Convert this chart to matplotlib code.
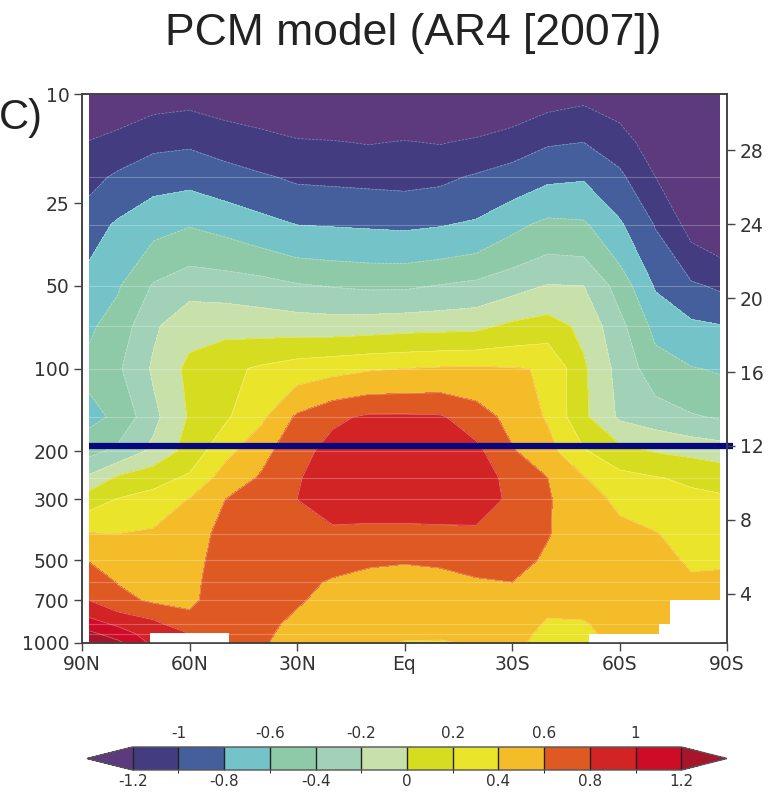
import numpy as np
import matplotlib
matplotlib.use("Agg")
import matplotlib.pyplot as plt
from matplotlib.colors import ListedColormap, BoundaryNorm
from matplotlib.ticker import NullLocator

# latitude of each model column (N positive), pressure levels (hPa)
lats = [88, 80, 70, 60, 50, 40, 30, 20, 10, 0, -10, -20, -30, -40, -50, -60, -70, -80, -88]
plev = [10, 15, 20, 30, 50, 70, 100, 150, 200, 250, 300, 400, 500, 600, 700, 850, 925, 1000]

# temperature change (degC) per pressure level
dt_10 = [-1.40, -1.36, -1.29, -1.27, -1.31, -1.35, -1.39, -1.40, -1.40, -1.40, -1.40, -1.42, -1.38, -1.29, -1.25, -1.32, -1.50, -1.55, -1.60]
dt_15 = [-1.19, -1.13, -1.05, -1.03, -1.09, -1.13, -1.18, -1.19, -1.21, -1.19, -1.21, -1.17, -1.10, -1.02, -1.00, -1.10, -1.32, -1.50, -1.55]
dt_20 = [-1.06, -0.97, -0.88, -0.86, -0.92, -0.98, -1.03, -1.04, -1.05, -1.06, -1.04, -0.98, -0.92, -0.84, -0.82, -0.96, -1.20, -1.42, -1.48]
dt_30 = [-0.89, -0.77, -0.66, -0.61, -0.66, -0.73, -0.80, -0.81, -0.82, -0.83, -0.81, -0.77, -0.65, -0.55, -0.57, -0.77, -1.01, -1.27, -1.35]
dt_50 = [-0.72, -0.62, -0.38, -0.27, -0.29, -0.32, -0.38, -0.41, -0.43, -0.43, -0.39, -0.35, -0.27, -0.19, -0.20, -0.48, -0.82, -0.97, -1.03]
dt_70 = [-0.63, -0.52, -0.23, -0.07, -0.06, -0.08, -0.09, -0.10, -0.09, -0.07, -0.06, -0.05, 0.04, 0.09, -0.05, -0.34, -0.66, -0.76, -0.79]
dt_100 = [-0.55, -0.43, -0.17, 0.05, 0.15, 0.23, 0.30, 0.34, 0.38, 0.40, 0.42, 0.43, 0.41, 0.39, 0.03, -0.27, -0.51, -0.59, -0.62]
dt_150 = [-0.66, -0.56, -0.25, 0.02, 0.17, 0.36, 0.63, 0.76, 0.83, 0.83, 0.82, 0.70, 0.53, 0.38, 0.04, -0.23, -0.30, -0.38, -0.42]
dt_200 = [-0.46, -0.35, -0.15, 0.08, 0.34, 0.54, 0.72, 0.88, 0.92, 0.93, 0.92, 0.85, 0.62, 0.47, 0.22, 0.07, -0.01, -0.05, -0.09]
dt_250 = [-0.16, 0.03, 0.13, 0.23, 0.49, 0.62, 0.78, 0.92, 0.95, 0.95, 0.95, 0.90, 0.74, 0.60, 0.41, 0.26, 0.21, 0.17, 0.13]
dt_300 = [0.11, 0.21, 0.27, 0.41, 0.60, 0.70, 0.80, 0.90, 0.92, 0.92, 0.92, 0.88, 0.77, 0.62, 0.46, 0.37, 0.29, 0.24, 0.23]
dt_400 = [0.41, 0.40, 0.43, 0.48, 0.68, 0.72, 0.76, 0.76, 0.74, 0.74, 0.75, 0.77, 0.73, 0.61, 0.50, 0.44, 0.41, 0.32, 0.31]
dt_500 = [0.59, 0.51, 0.49, 0.52, 0.70, 0.72, 0.70, 0.67, 0.62, 0.61, 0.63, 0.67, 0.67, 0.57, 0.50, 0.46, 0.45, 0.38, 0.38]
dt_600 = [0.71, 0.59, 0.55, 0.55, 0.70, 0.70, 0.65, 0.58, 0.56, 0.55, 0.54, 0.58, 0.60, 0.50, 0.48, 0.47, 0.47, 0.42, 0.43]
dt_700 = [0.80, 0.66, 0.57, 0.57, 0.68, 0.68, 0.62, 0.54, 0.53, 0.52, 0.50, 0.53, 0.56, 0.46, 0.45, 0.47, 0.47, 0.44, 0.45]
dt_850 = [1.08, 0.96, 0.85, 0.65, 0.72, 0.65, 0.56, 0.50, 0.48, 0.46, 0.45, 0.47, 0.50, 0.38, 0.39, 0.45, 0.46, 0.44, 0.45]
dt_925 = [1.25, 1.10, 0.90, 0.80, 0.76, 0.64, 0.53, 0.48, 0.46, 0.43, 0.42, 0.44, 0.47, 0.35, 0.37, 0.45, 0.46, 0.44, 0.45]
dt_1000 = [1.35, 1.25, 0.95, 0.85, 0.80, 0.63, 0.50, 0.47, 0.44, 0.39, 0.39, 0.41, 0.45, 0.33, 0.35, 0.45, 0.46, 0.44, 0.45]

# below-ground (no data) patches: lat from, lat to, top pressure
ground_lat0 = [71, -51.6, -71, -74]
ground_lat1 = [49, -71, -74, -88]
ground_ptop = [920, 925, 850, 697]

levels = [-1.2, -1.0, -0.8, -0.6, -0.4, -0.2, 0.0, 0.2, 0.4, 0.6, 0.8, 1.0, 1.2]
fill_colors = ['#433c80', '#455f9c', '#74c3c9', '#8ecaa8', '#a1d2b7', '#c8e1ab',
               '#d6dc20', '#eae42b', '#f4bc28', '#df5a23', '#d22424', '#cf0c28']
under_color = '#5d397d'
over_color = '#a8142a'

xticks = [90, 60, 30, 0, -30, -60, -90]
xlabels = ['90N', '60N', '30N', 'Eq', '30S', '60S', '90S']
pticks = [10, 25, 50, 100, 200, 300, 500, 700, 1000]
zticks = [4, 8, 12, 16, 20, 24, 28]
cb_bottom = [-1.2, -0.8, -0.4, 0, 0.4, 0.8, 1.2]
cb_bottom_lab = ['-1.2', '-0.8', '-0.4', '0', '0.4', '0.8', '1.2']
cb_top = [-1.0, -0.6, -0.2, 0.2, 0.6, 1.0]
cb_top_lab = ['-1', '-0.6', '-0.2', '0.2', '0.6', '1']
tropopause_km = 12


def km_to_hpa(z):
    return 103.0 * np.exp(-(np.asarray(z, dtype=float) - 16.0) / 6.45)


dt = np.array([dt_10, dt_15, dt_20, dt_30, dt_50, dt_70, dt_100, dt_150, dt_200,
               dt_250, dt_300, dt_400, dt_500, dt_600, dt_700, dt_850, dt_925, dt_1000])

cmap = ListedColormap(fill_colors)
cmap.set_under(under_color)
cmap.set_over(over_color)
norm = BoundaryNorm(levels, cmap.N)

W, H = 781, 796
fig = plt.figure(figsize=(W / 100, H / 100), dpi=100)
ax = fig.add_axes([82 / W, 1 - 643 / H, (727 - 82) / W, (643 - 94) / H])

cf = ax.contourf(lats, plev, dt, levels=levels, cmap=cmap, norm=norm, extend='both')
ax.contour(lats, plev, dt, levels=levels, colors='white', linewidths=0.5, alpha=0.4)

# faint lines at the model levels
for p in plev[2:-1]:
    if p != 15:
        ax.plot([lats[0], lats[-1]], [p, p], color='white', lw=0.8, alpha=0.25)

for a, b, p in zip(ground_lat0, ground_lat1, ground_ptop):
    ax.fill_between([a, b], [p, p], [1000, 1000], color='white', lw=0, zorder=3)

p_trop = km_to_hpa(tropopause_km)
ax.plot([lats[0], -91.7], [p_trop, p_trop], color='#08087e', lw=4.5,
        solid_capstyle='butt', clip_on=False, zorder=5)

ax.set_yscale('log')
ax.set_ylim(1000, 10)
ax.set_xlim(90, -90)
ax.set_xticks(xticks)
ax.set_xticklabels(xlabels)
ax.set_yticks(pticks)
ax.set_yticklabels([str(p) for p in pticks])
ax.yaxis.set_minor_locator(NullLocator())
ax.tick_params(direction='out', length=6, width=1, color='#444', labelcolor='#333',
               labelsize=13.5, pad=3)

ax2 = ax.twinx()
ax2.set_yscale('log')
ax2.set_ylim(1000, 10)
ax2.set_yticks(km_to_hpa(zticks))
ax2.set_yticklabels([str(z) for z in zticks])
ax2.yaxis.set_minor_locator(NullLocator())
ax2.tick_params(direction='out', length=6, width=1, color='#444', labelcolor='#333',
                labelsize=13.5, pad=3)

for a in (ax, ax2):
    for s in a.spines.values():
        s.set_color('#444')
        s.set_linewidth(1.2)

fig.text(413 / W, 1 - 33 / H, 'PCM model (AR4 [2007])', ha='center', va='center',
         fontsize=32, color='#222', family='Liberation Sans')
fig.text(43 / W, 1 - 118 / H, 'C)', ha='right', va='center', fontsize=30,
         color='#222', family='Liberation Sans')

cax = fig.add_axes([87 / W, 1 - 770 / H, 640 / W, 23 / H])
cb = fig.colorbar(cf, cax=cax, orientation='horizontal', extendfrac='auto',
                  drawedges=True, ticks=cb_bottom)
cb.ax.set_xticklabels(cb_bottom_lab)
cb.ax.tick_params(length=0, labelsize=11, labelcolor='#333', pad=3)
cb.outline.set_edgecolor('#555')
cb.outline.set_linewidth(1)
cb.dividers.set_color('#222')
cb.dividers.set_linewidth(1)
for v, lab in zip(cb_top, cb_top_lab):
    cb.ax.text(v, 1.25, lab, transform=cb.ax.get_xaxis_transform(), ha='center',
               va='bottom', fontsize=11, color='#333')

fig.savefig('out.png', dpi=100)
